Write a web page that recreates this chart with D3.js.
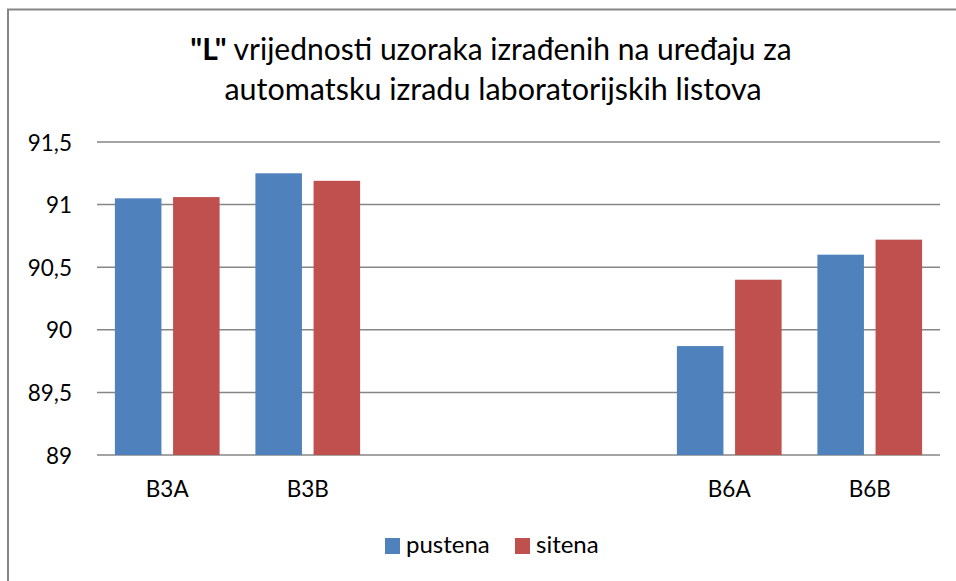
<!DOCTYPE html>
<html>
<head>
<meta charset="utf-8">
<script src="https://cdn.jsdelivr.net/npm/d3@7"></script>
<style>
  body { margin: 0; background: #fff; }
  text { font-family: Lato, "Open Sans", sans-serif; fill: #000; }
</style>
</head>
<body>
<svg id="chart" width="956" height="581"></svg>
<script>
const categories = ["B3A", "B3B", "", " ", "B6A", "B6B"];
const seriesNames = ["pustena", "sitena"];
const pustena = [91.05, 91.25, null, null, 89.87, 90.60];
const sitena = [91.06, 91.19, null, null, 90.40, 90.72];
const yTicks = [89, 89.5, 90, 90.5, 91, 91.5];
const colors = ["#4F81BD", "#C0504D"];

(function () {
const svg = d3.select("#chart");
svg.append("rect").attr("x", 8).attr("y", 9.5).attr("width", 960).attr("height", 600)
  .attr("fill", "#fff").attr("stroke", "#868686").attr("stroke-width", 2);

const pLeft = 97, pRight = 940, pTop = 142, pBottom = 455;
const x0 = d3.scaleBand().domain(categories).range([pLeft, pRight]).padding(0);
const inset = 17.9;
const x1 = d3.scaleBand().domain(seriesNames).range([inset, x0.bandwidth() - inset]).paddingInner(0.2).paddingOuter(0);
const y = d3.scaleLinear().domain([89, 91.5]).range([pBottom, pTop]);

// gridlines
svg.append("g").selectAll("line").data(yTicks).join("line")
  .attr("x1", pLeft).attr("x2", pRight)
  .attr("y1", d => y(d)).attr("y2", d => y(d))
  .attr("stroke", "#868686").attr("stroke-width", 1.5);

// y axis labels
const fmt = d => String(d).replace(".", ",");
const yAxis = d3.axisLeft(y).tickValues(yTicks).tickFormat(fmt).tickSize(0).tickPadding(0);
const yg = svg.append("g").attr("transform", "translate(72,0)").call(yAxis);
yg.select(".domain").remove();
yg.selectAll("text").attr("font-size", 22.5).attr("dy", "0.36em").style("font-family", "Lato, sans-serif").attr("fill", "#000");

// bars
const data = categories.map((c, i) => ({ cat: c, vals: [pustena[i], sitena[i]] }));
const groups = svg.append("g").selectAll("g").data(data).join("g")
  .attr("transform", d => `translate(${x0(d.cat)},0)`);
groups.selectAll("rect").data(d => d.vals.map((v, j) => ({ v, s: seriesNames[j], j })).filter(e => e.v != null))
  .join("rect")
  .attr("x", e => x1(e.s))
  .attr("width", x1.bandwidth())
  .attr("y", e => y(e.v))
  .attr("height", e => y(89) - y(e.v))
  .attr("fill", e => colors[e.j]);

// x axis labels
const xAxis = d3.axisBottom(x0).tickSize(0).tickPadding(0);
const xg = svg.append("g").attr("transform", `translate(0,${pBottom})`).call(xAxis);
xg.select(".domain").remove();
xg.selectAll("text").attr("font-size", 22.5).attr("y", 42).attr("dy", 0).style("font-family", "Lato, sans-serif").attr("fill", "#000");

// title
const t1 = svg.append("text").attr("x", 491).attr("y", 60).attr("text-anchor", "middle").attr("font-size", 30);
t1.append("tspan").attr("font-weight", "bold").text("\"L\"");
t1.append("tspan").text(" vrijednosti uzoraka izrađenih na uređaju za");
svg.append("text").attr("x", 493).attr("y", 100).attr("text-anchor", "middle").attr("font-size", 30.5)
  .text("automatsku izradu laboratorijskih listova");

// legend
const legend = svg.append("g");
const legendItems = [{ name: seriesNames[0], x: 385, c: colors[0] }, { name: seriesNames[1], x: 515, c: colors[1] }];
legendItems.forEach(it => {
  legend.append("rect").attr("x", it.x).attr("y", 538).attr("width", 15).attr("height", 16).attr("fill", it.c);
  legend.append("text").attr("x", it.x + 21).attr("y", 553).attr("font-size", 24).text(it.name);
});
})();
</script>
</body>
</html>
